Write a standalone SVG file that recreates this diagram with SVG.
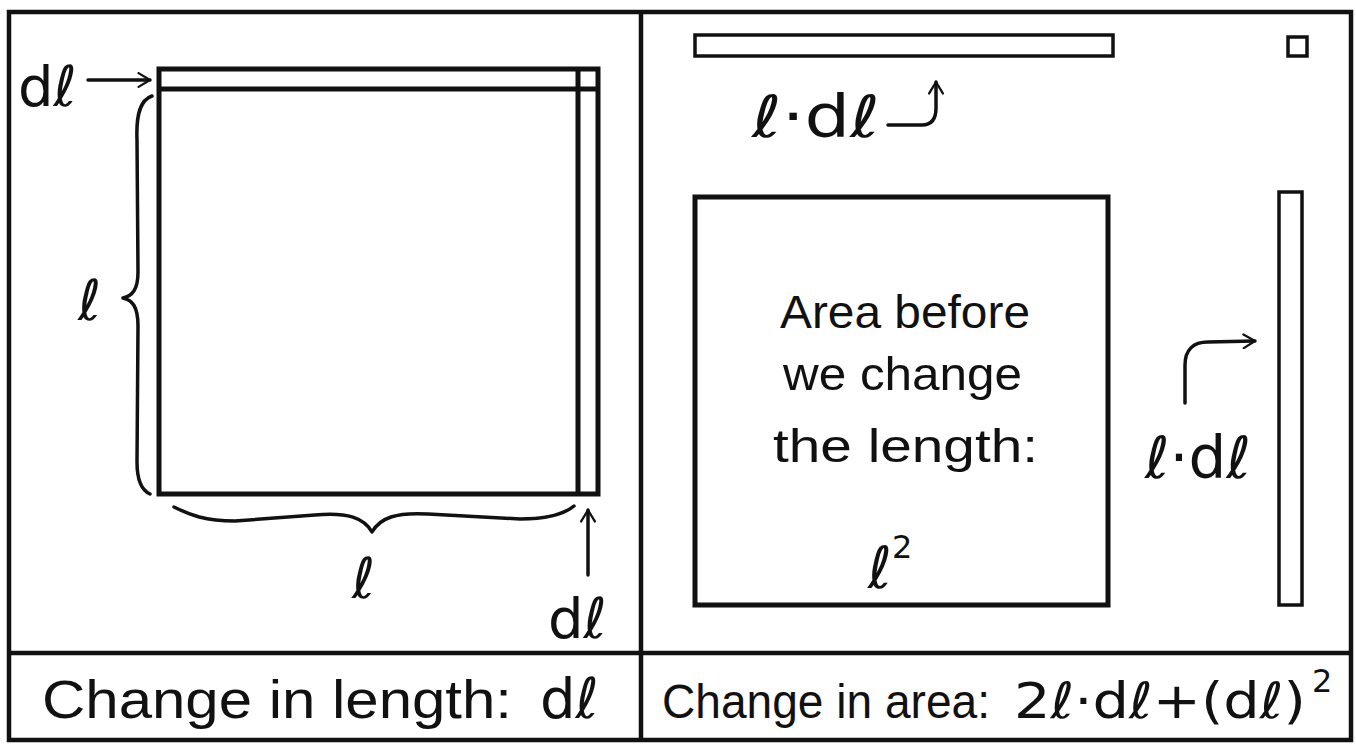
<svg xmlns="http://www.w3.org/2000/svg" width="1356" height="744" viewBox="0 0 1356 744">
<style>
.frame{fill:none;stroke:#111;stroke-width:4.5}
.box{fill:none;stroke:#111;stroke-width:5}
.thin{fill:none;stroke:#111;stroke-width:3.5}
.ln{fill:none;stroke:#111;stroke-width:3.5;stroke-linecap:round;stroke-linejoin:round}
.t{font-family:"Liberation Sans","DejaVu Sans",sans-serif;fill:#111}
.m{font-family:"DejaVu Sans","Liberation Sans",sans-serif;fill:#111}
</style>
<defs>
<marker id="ah" viewBox="0 0 14 14" refX="12" refY="7" markerWidth="16" markerHeight="16" markerUnits="userSpaceOnUse" orient="auto">
<path d="M2,1 L12,7 L2,13" fill="none" stroke="#111" stroke-width="2" stroke-linecap="round" stroke-linejoin="round"/>
</marker>
</defs>
<rect width="1356" height="744" fill="#fff"/>
<g id="frame">
<rect class="frame" x="9" y="12" width="1342" height="728"/>
<line class="frame" x1="641" y1="12" x2="641" y2="740"/>
<line class="frame" x1="9" y1="653" x2="1351" y2="653"/>
</g>
<g id="left-square">
<rect class="box" x="159" y="69" width="439" height="425"/>
<line class="box" x1="159" y1="89" x2="598" y2="89"/>
<line class="box" x1="578" y1="69" x2="578" y2="494"/>
</g>
<g id="strip-top">
<rect class="thin" x="695" y="35" width="418" height="21"/>
</g>
<g id="corner-square">
<rect class="thin" x="1288" y="37" width="19" height="19"/>
</g>
<g id="area-square">
<rect class="box" x="695" y="197" width="413" height="408"/>
<text class="t" x="780" y="328" font-size="47" textLength="250" lengthAdjust="spacingAndGlyphs">Area before</text>
<text class="t" x="783" y="390" font-size="47" textLength="239" lengthAdjust="spacingAndGlyphs">we change</text>
<text class="t" x="773" y="462" font-size="47" textLength="265" lengthAdjust="spacingAndGlyphs">the length:</text>
<text class="m" x="868" y="588" font-size="58">ℓ<tspan font-size="32" dy="-30">2</tspan></text>
</g>
<g id="strip-right">
<rect class="thin" x="1279" y="192" width="23" height="413"/>
</g>
<g id="labels">
<text class="m" x="18" y="106" font-size="56">dℓ</text>
<text class="m" x="78" y="320" font-size="56">ℓ</text>
<text class="m" x="352" y="598" font-size="56">ℓ</text>
<text class="m" x="548" y="638" font-size="56">dℓ</text>
<text class="m" x="752" y="137" font-size="58" textLength="128" lengthAdjust="spacingAndGlyphs">ℓ·dℓ</text>
<text class="m" x="1145" y="478" font-size="58" textLength="106" lengthAdjust="spacingAndGlyphs">ℓ·dℓ</text>
</g>
<g id="connectors">
<line class="ln" x1="88" y1="80" x2="150" y2="80" marker-end="url(#ah)"/>
<path class="ln" d="M152,96 C140,100 136,115 137,140 L138,272 C138,290 132,296 123,298 C132,300 138,306 138,326 L137,462 C137,480 141,490 150,494"/>
<path class="ln" d="M174,507 C190,515 205,521 235,521 L315,515 C348,512 364,518 372,532 C380,518 396,512 428,514 L520,519 C548,519 564,514 574,506"/>
<line class="ln" x1="588" y1="575" x2="588" y2="510" marker-end="url(#ah)"/>
<path class="ln" d="M888,125 L922,125 C932,125 936,118 936,108 L936,82" marker-end="url(#ah)"/>
<path class="ln" d="M1185,403 L1185,365 C1185,350 1193,342 1208,342 L1255,341" marker-end="url(#ah)"/>
</g>
<g id="captions">
<text class="t" x="42" y="718" font-size="54" textLength="470" lengthAdjust="spacingAndGlyphs">Change in length:</text>
<text class="m" x="540" y="718" font-size="56">dℓ</text>
<text class="t" x="662" y="718" font-size="48" textLength="328" lengthAdjust="spacingAndGlyphs">Change in area:</text>
<text class="m" x="1014" y="718" font-size="50" textLength="292" lengthAdjust="spacingAndGlyphs">2ℓ·dℓ+(dℓ)</text>
<text class="m" x="1312" y="692" font-size="32">2</text>
</g>
</svg>
